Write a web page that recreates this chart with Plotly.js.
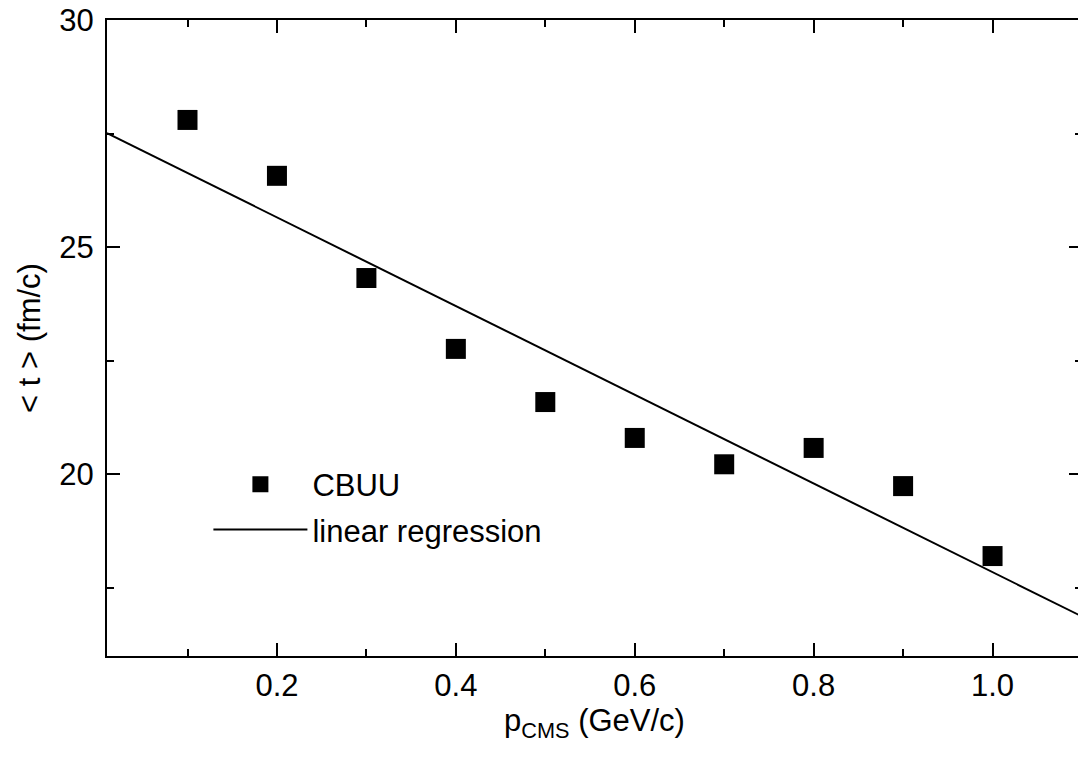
<!DOCTYPE html>
<html>
<head>
<meta charset="utf-8">
<script src="https://cdn.plot.ly/plotly-3.0.1.min.js"></script>
<style>
html,body{margin:0;padding:0;overflow:hidden;background:#fff;}
#chart{width:1090px;height:765px;}
</style>
</head>
<body>
<div id="chart"></div>
<script>
// Data
const pCMS = [0.1, 0.2, 0.3, 0.4, 0.5, 0.6, 0.7, 0.8, 0.9, 1.0];
const meanT = [27.80, 26.57, 24.32, 22.76, 21.59, 20.80, 20.22, 20.58, 19.74, 18.20];
const fitX = [0.01, 1.1];
const fitY = [27.51, 16.87];
const xTickVals = [0.2, 0.4, 0.6, 0.8, 1.0];
const xTickText = ['0.2', '0.4', '0.6', '0.8', '1.0'];
const yTickVals = [20, 25, 30];

const FONT = '"Liberation Sans", Arial, Helvetica, sans-serif';

const traces = [
  {
    x: pCMS, y: meanT, type: 'scatter', mode: 'markers', name: 'CBUU',
    legendgroup: 'a',
    marker: {symbol: 'square', size: 20, color: '#000'}
  },
  {
    x: fitX, y: fitY, type: 'scatter', mode: 'lines', name: 'linear regression',
    legendgroup: 'b',
    line: {color: '#000', width: 2}
  }
];

const axisCommon = {
  showline: true, linecolor: '#000', linewidth: 2,
  mirror: 'ticks', ticks: 'inside', ticklen: 13, tickwidth: 2, tickcolor: '#000',
  showgrid: false, zeroline: false,
  tickfont: {family: FONT, size: 31, color: '#000'}
};

const layout = {
  width: 1090, height: 765,
  margin: {l: 107, r: 8, t: 20, b: 109},
  paper_bgcolor: '#fff', plot_bgcolor: '#fff',
  font: {family: FONT, size: 31, color: '#000'},
  showlegend: true,
  legend: {
    x: 0.104, y: 0.312, xanchor: 'left', yanchor: 'top',
    bgcolor: 'rgba(0,0,0,0)', borderwidth: 0,
    itemwidth: 94, traceorder: 'grouped', tracegroupgap: 2,
    font: {family: FONT, size: 31, color: '#000'}
  },
  xaxis: Object.assign({}, axisCommon, {
    range: [0.01, 1.1],
    tickmode: 'array', tickvals: xTickVals, ticktext: xTickText,
    ticklabelstandoff: 1,
    minor: {dtick: 0.1, tick0: 0, ticks: 'inside', ticklen: 7, tickwidth: 2, tickcolor: '#000', showgrid: false},
    title: {text: 'p<sub>CMS</sub> (GeV/c)', font: {family: FONT, size: 31, color: '#000'}, standoff: 0}
  }),
  yaxis: Object.assign({}, axisCommon, {
    range: [16, 30],
    tickmode: 'array', tickvals: yTickVals,
    ticklabelstandoff: 5,
    minor: {dtick: 2.5, tick0: 0, ticks: 'inside', ticklen: 7, tickwidth: 2, tickcolor: '#000', showgrid: false},
    title: {text: '&lt; t &gt; (fm/c)', font: {family: FONT, size: 31, color: '#000'}, standoff: 9}
  })
};

Plotly.newPlot('chart', traces, layout, {displayModeBar: false, staticPlot: true});
</script>
</body>
</html>
